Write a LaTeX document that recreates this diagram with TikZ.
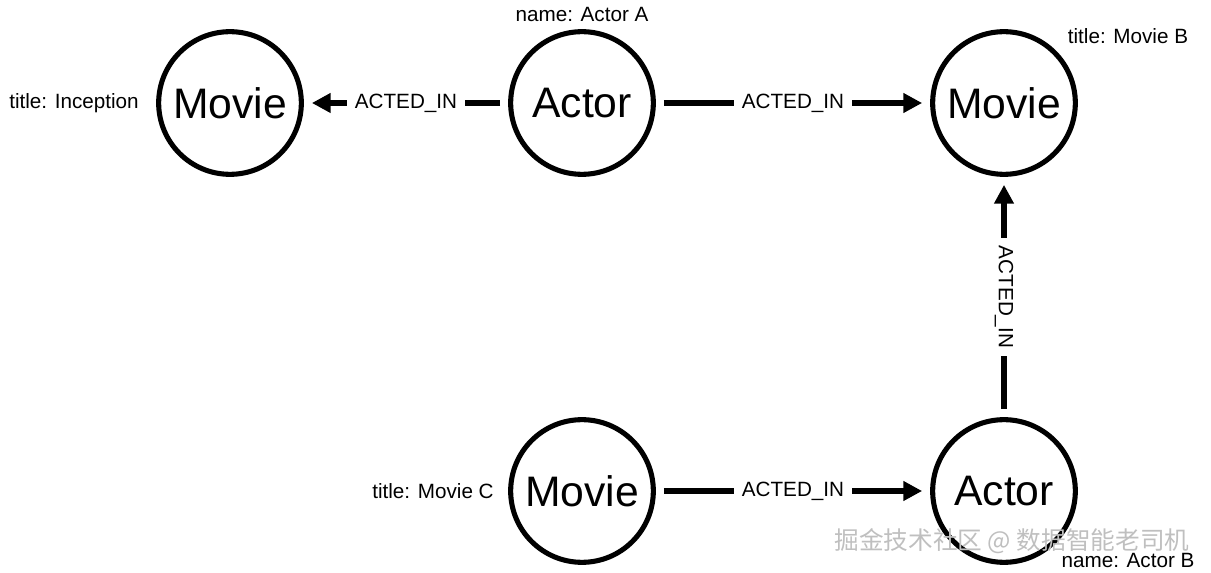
\documentclass[tikz,border=0pt]{standalone}
\usepackage{fontspec}
\setmainfont{Liberation Sans}
\newfontfamily\cjk{Noto Sans CJK SC}
\usetikzlibrary{arrows.meta}
\begin{document}
\begin{tikzpicture}[x=0.75pt,y=-0.75pt,
  ent/.style={circle,draw,line width=3.8pt,minimum size=107pt,inner sep=0pt,font=\fontsize{32}{36}\selectfont},
  rel/.style={line width=3.8pt,shorten <=6pt,shorten >=6pt,-{Triangle[length=14pt,width=14pt]}},
  lab/.style={fill=white,font=\fontsize{15.5}{18}\selectfont,inner sep=6pt},
  prop/.style={font=\fontsize{15.5}{18}\selectfont}]
\useasboundingbox (0,0) rectangle (1211,573);
\node[ent] (m1) at (230,103) {Movie};
\node[ent] (a1) at (582,103) {Actor};
\node[ent] (m2) at (1004,103) {Movie};
\node[ent] (m3) at (582,491) {Movie};
\node[ent] (a2) at (1004,491) {Actor};
\draw[rel] (a1) -- node[lab]{ACTED\_IN} (m1);
\draw[rel] (a1) -- node[lab]{ACTED\_IN} (m2);
\draw[rel] (m3) -- node[lab]{ACTED\_IN} (a2);
\draw[rel] (a2) -- node[lab,rotate=-90]{ACTED\_IN} (m2);
\node[prop] (p1) at (582,14) {name: Actor A};
\node[prop] (p2) at (1128,36) {title: Movie B};
\node[prop] (p3) at (74,103) {title: Inception};
\node[prop] (p4) at (433,491) {title: Movie C};
\node[prop] (p5) at (1128,560) {name: Actor B};
\node[font=\cjk\fontsize{18.5}{20}\selectfont,text=black!25] (wm) at (1012,541) {掘金技术社区 @ 数据智能老司机};
\end{tikzpicture}
\end{document}
